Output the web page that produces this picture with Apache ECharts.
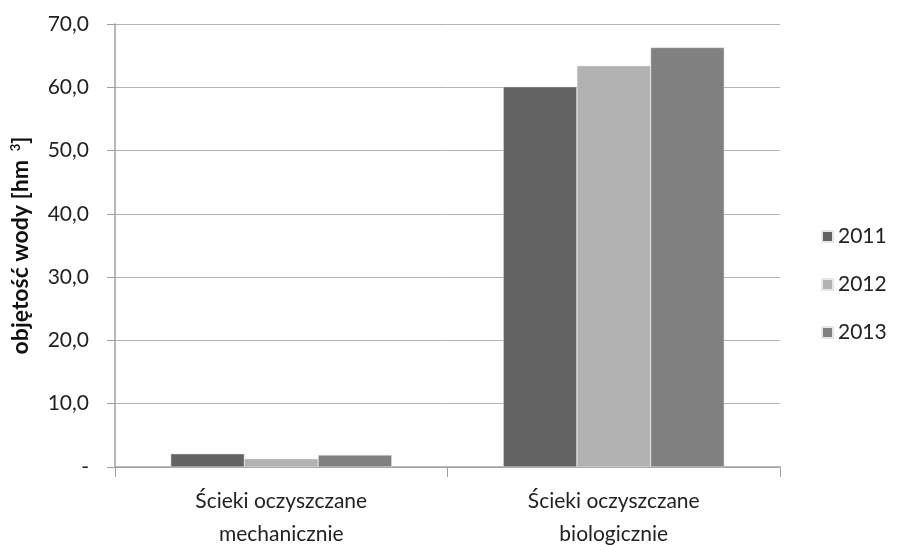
<!DOCTYPE html>
<html>
<head>
<meta charset="utf-8">
<script src="https://cdn.jsdelivr.net/npm/echarts@6/dist/echarts.min.js"></script>
<style>
  html, body { margin: 0; padding: 0; background: #fff; }
  #chart { width: 897px; height: 545px; }
</style>
</head>
<body>
<div id="chart"></div>
<script>
// dane
var categories = ['Ścieki oczyszczane\nmechanicznie', 'Ścieki oczyszczane\nbiologicznie'];
var years = ['2011', '2012', '2013'];
var values2011 = [2.1, 60.1];
var values2012 = [1.3, 63.4];
var values2013 = [1.9, 66.3];
var colors = ['#636363', '#b2b2b2', '#808080'];

var font = 'Lato, "Open Sans", sans-serif';
var chart = echarts.init(document.getElementById('chart'));

var allValues = [values2011, values2012, values2013];
var series = years.map(function (y, i) {
  return {
    name: y,
    type: 'bar',
    data: allValues[i],
    barGap: '0%',
    barCategoryGap: '33.5%',
    itemStyle: { color: colors[i], borderColor: '#e6e6e6', borderWidth: 0.5 }
  };
});

var option = {
  animation: false,
  textStyle: { fontFamily: font },
  grid: { left: 115, right: 117, top: 24, bottom: 78, outerBoundsMode: 'none', containLabel: false },
  legend: {
    orient: 'vertical',
    left: 816,
    top: 221,
    itemWidth: 11,
    itemHeight: 11,
    itemGap: 27,
    icon: 'rect',
    data: years,
    textStyle: { fontSize: 21, color: '#222', fontFamily: font }
  },
  xAxis: {
    type: 'category',
    data: categories,
    axisLine: { lineStyle: { color: '#a0a0a0', width: 1.5 } },
    axisTick: { show: true, length: 10, lineStyle: { color: '#a0a0a0' } },
    axisLabel: { fontSize: 21, color: '#222', lineHeight: 33, margin: 18, fontFamily: font }
  },
  yAxis: {
    type: 'value',
    min: 0,
    max: 70,
    interval: 10,
    name: '{n|objętość wody [hm }{s|3}{n|]}',
    nameLocation: 'middle',
    nameGap: 83,
    nameRotate: 90,
    nameTextStyle: {
      rich: {
        n: { fontSize: 23, fontWeight: 'bold', color: '#111', fontFamily: font },
        s: { fontSize: 13, fontWeight: 'bold', color: '#111', fontFamily: font, verticalAlign: 'top', padding: [0, 0, 10, 3] }
      }
    },
    axisLine: { show: true, lineStyle: { color: '#a0a0a0', width: 1.5 } },
    axisTick: { show: true, inside: false, length: 8, lineStyle: { color: '#a0a0a0' } },
    splitLine: { show: true, lineStyle: { color: '#b3b3b3', width: 1 } },
    axisLabel: {
      fontSize: 21,
      color: '#222',
      margin: 26,
      fontFamily: font,
      formatter: function (v) {
        return v === 0 ? '-' : v.toFixed(1).replace('.', ',');
      }
    }
  },
  series: series
};

chart.setOption(option);
</script>
</body>
</html>
